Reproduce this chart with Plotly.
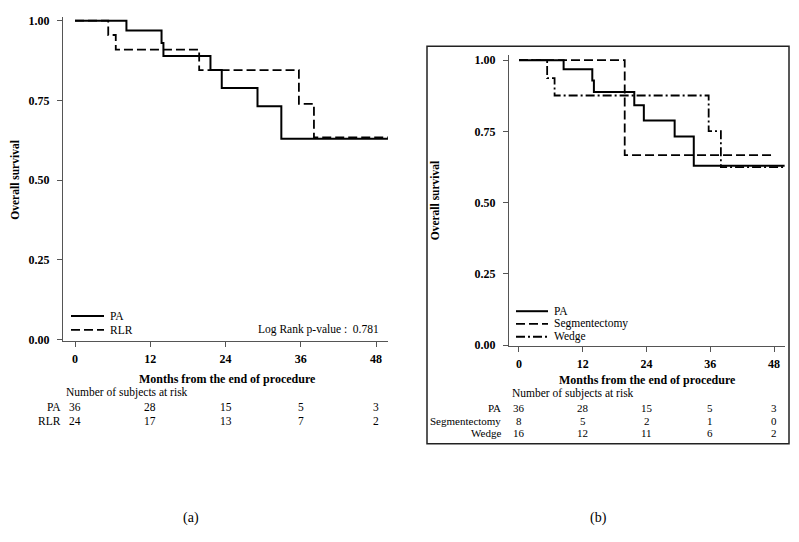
import plotly.graph_objects as go

W, H = 799, 542

# ---------------- data ----------------
# Panel (a)
pa_a_t = [0, 8.2, 13.8, 14.1, 21.6, 23.4, 29.1, 32.9, 49.9]
pa_a_s = [1.0, 0.969, 0.930, 0.889, 0.845, 0.789, 0.732, 0.630, 0.630]
rlr_t = [0, 5.3, 6.5, 19.8, 35.7, 38.1, 49.9]
rlr_s = [1.0, 0.955, 0.909, 0.845, 0.739, 0.634, 0.634]

# Panel (b)
pa_b_t = [0, 8.4, 13.8, 14.1, 21.7, 23.5, 29.3, 32.9, 50.0]
pa_b_s = [1.0, 0.968, 0.929, 0.888, 0.842, 0.788, 0.732, 0.630, 0.630]
seg_t = [0, 19.9, 47.9]
seg_s = [1.0, 0.667, 0.667]
wedge_t = [0, 5.3, 6.7, 35.7, 38.0, 50.0]
wedge_s = [1.0, 0.937, 0.876, 0.751, 0.625, 0.625]

tick_months = [0, 12, 24, 36, 48]
y_ticks = [0.0, 0.25, 0.5, 0.75, 1.0]
y_tick_labels = ["0.00", "0.25", "0.50", "0.75", "1.00"]

risk_a_labels = ["PA", "RLR"]
risk_a = [[36, 28, 15, 5, 3], [24, 17, 13, 7, 2]]
risk_b_labels = ["PA", "Segmentectomy", "Wedge"]
risk_b = [[36, 28, 15, 5, 3], [8, 5, 2, 1, 0], [16, 12, 11, 6, 2]]

pvalue_text = "Log Rank p-value :  0.781"

# ---------------- helpers ----------------
def fx(p):
    return p / W

def fy(p):
    return 1 - p / H

SERIF = "Liberation Serif, Times New Roman, serif"
SOLID = "solid"
DASH = "9px,4px"
DASHDOT = "9px,3px,2px,3px"
TXT = 11.5

fig = go.Figure()

def add(t, s, name, dash, width, xa, ya):
    fig.add_trace(go.Scatter(
        x=t, y=s, mode="lines", name=name, line_shape="hv",
        line=dict(color="black", width=width, dash=dash),
        xaxis=xa, yaxis=ya, showlegend=False, hoverinfo="x+y+name"))

add(pa_a_t, pa_a_s, "PA", SOLID, 2, "x", "y")
add(rlr_t, rlr_s, "RLR", DASH, 1.8, "x", "y")
add(pa_b_t, pa_b_s, "PA", SOLID, 2, "x2", "y2")
add(seg_t, seg_s, "Segmentectomy", DASH, 1.8, "x2", "y2")
add(wedge_t, wedge_s, "Wedge", DASHDOT, 1.8, "x2", "y2")

tickfont = dict(family=SERIF, size=12, color="black", weight="bold")
axis_common = dict(showgrid=False, zeroline=False, showline=True, linecolor="#555",
                   linewidth=1, ticks="outside", ticklen=5, tickcolor="#555",
                   tickfont=tickfont, fixedrange=True)

fig.update_layout(
    width=W, height=H, margin=dict(l=0, r=0, t=0, b=0),
    paper_bgcolor="white", plot_bgcolor="white", showlegend=False,
    xaxis=dict(domain=[fx(63), fx(388)], range=[-1.914, 49.91],
               tickvals=tick_months, anchor="y", ticklabelstandoff=2, **axis_common),
    yaxis=dict(domain=[fy(344), fy(14)], range=[-0.003, 1.0123],
               tickvals=y_ticks, ticktext=y_tick_labels, anchor="x",
               ticklabelstandoff=5, **axis_common),
    xaxis2=dict(domain=[fx(509), fx(785)], range=[-1.88, 50.07],
                tickvals=tick_months, anchor="y2", ticklabelstandoff=2, **axis_common),
    yaxis2=dict(domain=[fy(349), fy(53)], range=[-0.001, 1.018],
                tickvals=y_ticks, ticktext=y_tick_labels, anchor="x2",
                ticklabelstandoff=5, **axis_common),
)

ann = []
def text(x, y, s, xref="paper", xanchor="center", bold=False, size=TXT, angle=0):
    ann.append(dict(x=x, y=y, xref=xref, yref="paper", text=s, showarrow=False,
                    xanchor=xanchor, yanchor="middle", textangle=angle,
                    font=dict(family=SERIF, size=size, color="black",
                              weight="bold" if bold else "normal")))

shapes = []
def legend_key(x0, x1, y, dash, width, label):
    shapes.append(dict(type="line", xref="paper", yref="paper",
                       x0=fx(x0), x1=fx(x1), y0=fy(y), y1=fy(y),
                       line=dict(color="black", width=width, dash=dash)))
    text(fx(x1 + 4), fy(y), label, xanchor="left")

# Panel (a) texts
text(fx(15), fy(180), "Overall survival", bold=True, size=11.5, angle=-90)
text(fx(227), fy(383), "Months from the end of procedure", bold=True, size=12)
text(fx(64), fy(397), "Number of subjects at risk", xanchor="left")
text(fx(381), fy(333), pvalue_text, xanchor="right")
legend_key(71, 104, 319, SOLID, 2, risk_a_labels[0])
legend_key(71, 104, 333, DASH, 1.8, risk_a_labels[1])
for i, lab in enumerate(risk_a_labels):
    yy = fy(412 + 14 * i)
    text(fx(63), yy, lab, xanchor="right")
    for m, v in zip(tick_months, risk_a[i]):
        text(m, yy, str(v), xref="x")

# Panel (b) texts
text(fx(435), fy(201), "Overall survival", bold=True, size=11.5, angle=-90)
text(fx(647), fy(384), "Months from the end of procedure", bold=True, size=12)
text(fx(510), fy(398), "Number of subjects at risk", xanchor="left")
legend_key(516, 548, 314, SOLID, 2, risk_b_labels[0])
legend_key(516, 548, 327, DASH, 1.8, risk_b_labels[1])
legend_key(516, 548, 340, DASHDOT, 1.8, risk_b_labels[2])
for i, lab in enumerate(risk_b_labels):
    yy = fy(413 + 12.4 * i)
    text(fx(503), yy, lab, xanchor="right", size=11)
    for m, v in zip(tick_months, risk_b[i]):
        text(m, yy, str(v), xref="x2", size=11)

text(fx(191), fy(525), "(a)", size=14)
text(fx(598), fy(525), "(b)", size=14)

shapes.append(dict(type="rect", xref="paper", yref="paper",
                   x0=fx(427), x1=fx(789), y0=fy(449), y1=fy(44),
                   line=dict(color="#222", width=1.5)))

fig.update_layout(annotations=ann, shapes=shapes)

fig.write_html("out.html", config={"displayModeBar": False},
               post_script="document.body.style.margin='0px';")
